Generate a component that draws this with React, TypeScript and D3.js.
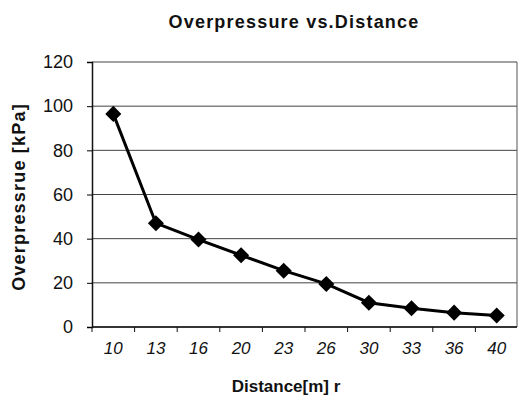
import * as React from "react";
import * as d3 from "d3";

const distances = ["10", "13", "16", "20", "23", "26", "30", "33", "36", "40"];
const overpressure = [96.5, 47, 39.6, 32.5, 25.5, 19.5, 11, 8.5, 6.5, 5.2];
const yTicks = [0, 20, 40, 60, 80, 100, 120];

const W = 518;
const H = 403;
const left = 92;
const right = 517;
const top = 62;
const bottom = 327;

function drawChart(svgEl: SVGSVGElement) {
  const svg = d3.select(svgEl);
  svg.selectAll("*").remove();

  const x = d3.scaleBand().domain(distances).range([left, right + 1]);
  const y = d3.scaleLinear().domain([0, 120]).range([bottom, top]);

  const font = "Arial, 'Liberation Sans', sans-serif";

  // gridlines
  svg.append("g")
    .selectAll("line")
    .data(yTicks)
    .join("line")
    .attr("x1", left)
    .attr("x2", right)
    .attr("y1", (d) => y(d))
    .attr("y2", (d) => y(d))
    .attr("stroke", "#444")
    .attr("stroke-width", 1);

  // frame right
  svg.append("line")
    .attr("x1", right).attr("x2", right)
    .attr("y1", top).attr("y2", bottom)
    .attr("stroke", "#555");

  // y axis
  const yAxis = svg.append("g")
    .attr("transform", `translate(${left},0)`)
    .call(d3.axisLeft(y).tickValues(yTicks).tickSize(5).tickPadding(14));
  yAxis.select(".domain").attr("stroke", "#111").attr("stroke-width", 1.5);
  yAxis.selectAll("text")
    .attr("font-family", font)
    .attr("font-size", 18)
    .attr("fill", "#111");

  // x axis with ticks between categories
  const xAxis = svg.append("g").attr("transform", `translate(0,${bottom})`);
  xAxis.append("line")
    .attr("x1", left).attr("x2", right)
    .attr("stroke", "#111").attr("stroke-width", 1.5);
  xAxis.selectAll("line.tick")
    .data(distances)
    .join("line")
    .attr("class", "tick")
    .attr("x1", (d) => x(d)!)
    .attr("x2", (d) => x(d)!)
    .attr("y1", 0)
    .attr("y2", 5)
    .attr("stroke", "#111");
  xAxis.selectAll("text")
    .data(distances)
    .join("text")
    .attr("x", (d) => x(d)! + x.bandwidth() / 2)
    .attr("y", 27)
    .attr("text-anchor", "middle")
    .attr("font-family", font)
    .attr("font-size", 17)
    .attr("font-style", "italic")
    .attr("fill", "#111")
    .text((d) => d);

  // line
  const line = d3.line<number>()
    .x((_, i) => x(distances[i])! + x.bandwidth() / 2)
    .y((d) => y(d));
  svg.append("path")
    .datum(overpressure)
    .attr("d", line)
    .attr("fill", "none")
    .attr("stroke", "#000")
    .attr("stroke-width", 3);

  // diamonds
  const diamond = d3.symbol().type(d3.symbolDiamond2).size(165);
  svg.append("g")
    .selectAll("path")
    .data(overpressure)
    .join("path")
    .attr("transform", (d, i) => `translate(${x(distances[i])! + x.bandwidth() / 2},${y(d)})`)
    .attr("d", diamond)
    .attr("fill", "#000");

  // title
  svg.append("text")
    .attr("x", 294)
    .attr("y", 28)
    .attr("text-anchor", "middle")
    .attr("font-family", font)
    .attr("font-size", 18)
    .attr("font-weight", "bold")
    .attr("letter-spacing", 1.2)
    .attr("fill", "#111")
    .text("Overpressure vs.Distance");

  // axis titles
  svg.append("text")
    .attr("transform", `translate(25,197) rotate(-90)`)
    .attr("text-anchor", "middle")
    .attr("font-family", font)
    .attr("font-size", 18)
    .attr("font-weight", "bold")
    .attr("letter-spacing", 1.2)
    .attr("fill", "#111")
    .text("Overpressrue [kPa]");

  svg.append("text")
    .attr("x", 286)
    .attr("y", 392)
    .attr("text-anchor", "middle")
    .attr("font-family", font)
    .attr("font-size", 17)
    .attr("font-weight", "bold")
    .attr("fill", "#111")
    .text("Distance[m] r");
}

const App = () => {
  const ref = React.useRef<SVGSVGElement>(null);
  React.useEffect(() => {
    if (ref.current) drawChart(ref.current);
  }, []);
  return (
    <svg
      ref={ref}
      width={W}
      height={H}
      style={{ position: "absolute", left: 0, top: 0, background: "#fff" }}
    />
  );
};

export default App;
